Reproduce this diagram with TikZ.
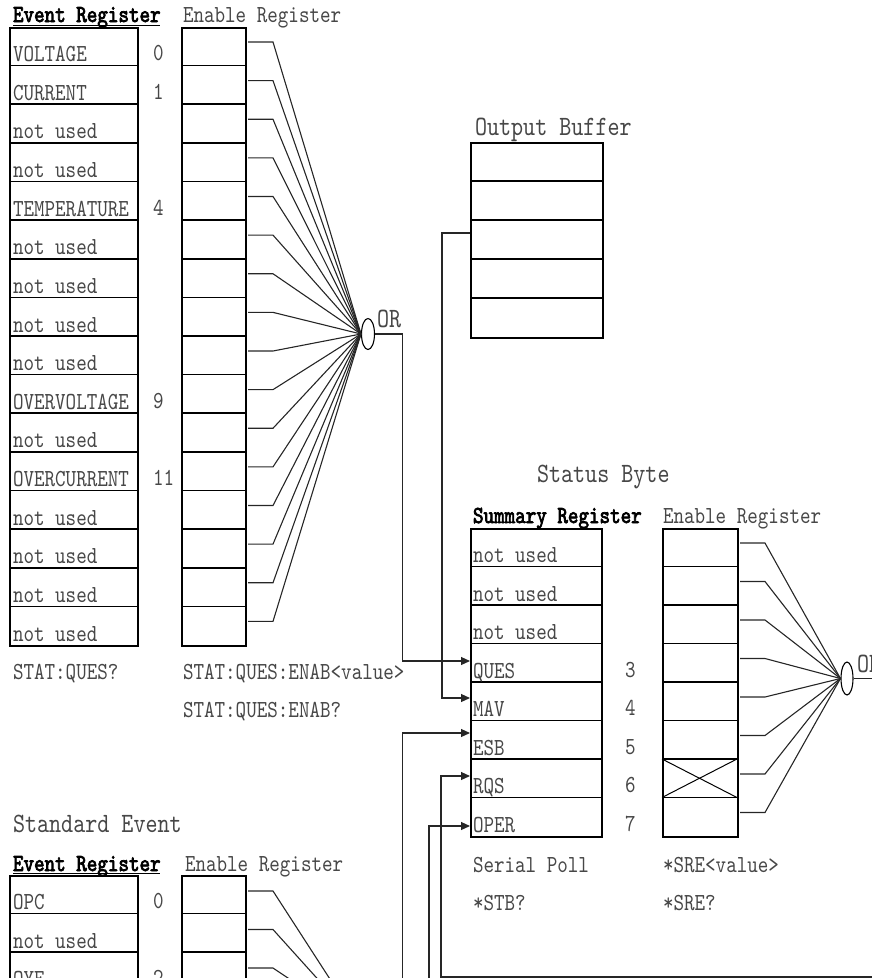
\documentclass[tikz,border=0pt]{standalone}
\usepackage{fontspec}
\newfontfamily\mono[FakeStretch=0.82]{lmmono10-regular.otf}
\newfontfamily\monob[FakeStretch=0.82,FakeBold=3]{lmmono10-regular.otf}
\usetikzlibrary{shapes.geometric,arrows.meta}
\definecolor{txt}{HTML}{474747}
\tikzset{
  lbl/.style={anchor=base west, inner sep=0pt, outer sep=0pt, font=\mono\fontsize{24.5}{24.5}\selectfont, text=txt},
  hdr/.style={lbl, font=\mono\fontsize{28}{28}\selectfont},
  blbl/.style={lbl, font=\monob\fontsize{24.5}{24.5}\selectfont, text=black},
  regbox/.style={draw, line width=1.6pt, anchor=north west, inner sep=0pt},
  rowline/.style={line width=1.6pt},
  wire/.style={line width=1.1pt, draw=black!85},
  orgate/.style={ellipse, draw, line width=1.1pt, inner sep=0pt, minimum width=13pt, minimum height=31pt},
  arr/.style={-{Triangle[length=9pt,width=8pt]}}
}
\begin{document}
\begin{tikzpicture}[x=1pt,y=-1pt]
\useasboundingbox (0,0) rectangle (872,978);

% ================= Questionable status =================
\node[blbl] (qevh) at (13,22) {Event Register};
\draw[line width=1pt] (13,25) -- (160,25);
\node[lbl] (qenh) at (183,22) {Enable Register};

\node[regbox, minimum width=128pt, minimum height=618pt] (qev) at (9,27) {};
\node[regbox, minimum width=64pt, minimum height=618pt] (qen) at (181,27) {};
\foreach \i in {1,...,15}{
  \draw[rowline] (9,{27+\i*38.625}) -- (137,{27+\i*38.625});
  \draw[rowline] (181,{27+\i*38.625}) -- (245,{27+\i*38.625});
}
\foreach \t [count=\i from 0] in {VOLTAGE,CURRENT,not used,not used,TEMPERATURE,not used,not used,not used,not used,OVERVOLTAGE,not used,OVERCURRENT,not used,not used,not used,not used}{
  \node[lbl] (qt\i) at (13,{27+(\i+1)*38.625-4}) {\t};
}
\foreach \n in {0,1,4,9,11}{
  \node[lbl] (qn\n) at (153,{27+(\n+1)*38.625-5}) {\n};
}

\node[orgate] (qor) at (368,334) {};
\node[hdr] (qorl) at (377,327) {OR};
\foreach \i in {0,...,15}{
  \coordinate (qs\i) at (248,{27+\i*38.625+15});
  \draw[wire] (qs\i) -- ++(25,0) -- (qor.west);
}

\node[lbl] (qcmd1) at (13,679) {STAT:QUES?};
\node[lbl] (qcmd2) at (183,679) {STAT:QUES:ENAB<value>};
\node[lbl] (qcmd3) at (183,717) {STAT:QUES:ENAB?};

% ================= Output buffer =================
\node[hdr] (obh) at (475,135) {Output Buffer};
\node[regbox, minimum width=132pt, minimum height=195pt] (ob) at (470,142) {};
\foreach \i in {1,...,4}{
  \draw[rowline] (470,{142+\i*39}) -- (602,{142+\i*39});
}
\coordinate (obl) at (470,233);

% ================= Status byte =================
\node[hdr] (sbh) at (537,482) {Status Byte};
\node[blbl] (sumh) at (473,523) {Summary Register};
\node[lbl] (senh) at (663,523) {Enable Register};

\node[regbox, minimum width=131pt, minimum height=308pt] (sum) at (470,528) {};
\node[regbox, minimum width=75pt, minimum height=308pt] (sen) at (662,528) {};
\foreach \i in {1,...,7}{
  \draw[rowline] (470,{528+\i*38.5}) -- (601,{528+\i*38.5});
  \draw[rowline] (662,{528+\i*38.5}) -- (737,{528+\i*38.5});
}
\draw[line width=1pt] (662,759) -- (737,797.5);
\draw[line width=1pt] (662,797.5) -- (737,759);

\foreach \t [count=\i from 0] in {not used,not used,not used,QUES,MAV,ESB,RQS,OPER}{
  \node[lbl] (st\i) at (473,{528+(\i+1)*38.5-4}) {\t};
}
\foreach \n in {3,...,7}{
  \node[lbl] (sn\n) at (625,{528+(\n+1)*38.5-5}) {\n};
}

\node[orgate, minimum width=12pt, minimum height=33pt] (sor) at (847,678.5) {};
\node[hdr] (sorl) at (857,672) {OR};
\foreach \i in {0,...,7}{
  \coordinate (ss\i) at (740,{528+\i*38.5+15});
  \draw[wire] (ss\i) -- ++(25,0) -- (sor.west);
}
\coordinate (sorout) at (880,678.5);
\draw[wire] (sor.east) -- (sorout);

\node[lbl] (sp1) at (473,872) {Serial Poll};
\node[lbl] (sp2) at (473,910) {*STB?};
\node[lbl] (sre1) at (663,872) {*SRE<value>};
\node[lbl] (sre2) at (663,910) {*SRE?};

% inputs to summary register
\coordinate (quesin) at (470,661);
\coordinate (mavin) at (470,698);
\coordinate (esbin) at (470,733);
\coordinate (rqsin) at (470,776);
\coordinate (operin) at (470,826);
\coordinate (rqsfar) at (880,977);
\coordinate (opersrc) at (429,990);

\draw[wire,arr] (qor.east) -- ++(27,0) |- (quesin);
\draw[wire,arr] (obl) -- (442,233) |- (mavin);
\draw[wire,arr] (rqsfar) -- (441,977) |- (rqsin);
\draw[wire,arr] (opersrc) |- (operin);

% ================= Standard event =================
\node[hdr] (seh) at (13,832) {Standard Event};
\node[blbl] (sevh) at (13,871) {Event Register};
\draw[line width=1pt] (13,873.5) -- (160,873.5);
\node[lbl] (seenh) at (185,871) {Enable Register};

\node[regbox, minimum width=128pt, minimum height=308pt] (sev) at (9,875) {};
\node[regbox, minimum width=64pt, minimum height=308pt] (seen) at (181,875) {};
\foreach \i in {1,...,7}{
  \draw[rowline] (9,{875+\i*38.5}) -- (137,{875+\i*38.5});
  \draw[rowline] (181,{875+\i*38.5}) -- (245,{875+\i*38.5});
}
\node[lbl] (set0) at (13,909.5) {OPC};
\node[lbl] (set1) at (13,948) {not used};
\node[lbl] (set2) at (13,986.5) {QYE};
\node[lbl] (sen0) at (153,908.5) {0};
\node[lbl] (sen2) at (153,985.5) {2};

\node[orgate] (seor) at (368,1027) {};
\foreach \i in {0,...,7}{
  \coordinate (se\i) at (248,{875+\i*38.5+16});
  \draw[wire] (se\i) -- ++(25,0) -- (seor.west);
}
\draw[wire,arr] (seor.east) -- ++(27.5,0) |- (esbin);
\end{tikzpicture}
\end{document}
